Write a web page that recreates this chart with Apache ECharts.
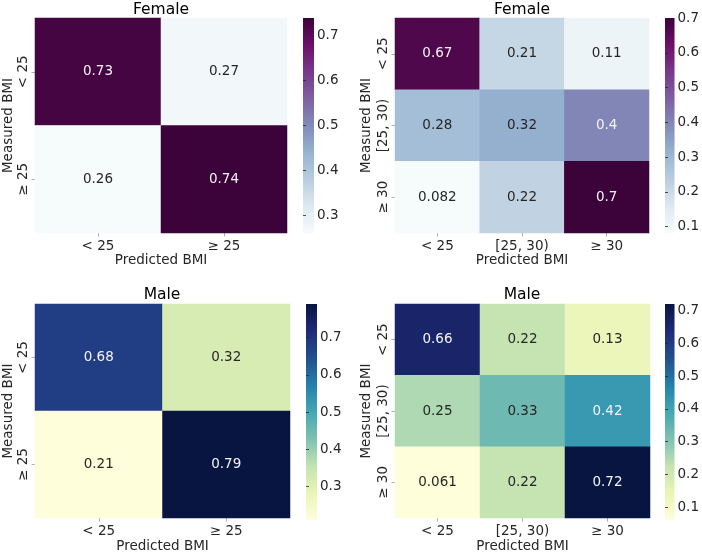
<!DOCTYPE html>
<html>
<head>
<meta charset="utf-8">
<script src="https://cdn.jsdelivr.net/npm/echarts@6/dist/echarts.min.js"></script>
<style>
html,body{margin:0;padding:0;background:#fff;}
#chart{width:702px;height:554px;}
</style>
</head>
<body>
<div id="chart"></div>
<script>
// ---- data ----
const titles = ['Female', 'Female', 'Male', 'Male'];
const binaryCategories = ['< 25', '≥ 25'];
const ternaryCategories = ['< 25', '[25, 30)', '≥ 30'];
// rows = measured BMI (top to bottom), columns = predicted BMI
const femaleBinary = [[0.73, 0.27], [0.26, 0.74]];
const femaleTernary = [[0.67, 0.21, 0.11], [0.28, 0.32, 0.4], [0.082, 0.22, 0.7]];
const maleBinary = [[0.68, 0.32], [0.21, 0.79]];
const maleTernary = [[0.66, 0.22, 0.13], [0.25, 0.33, 0.42], [0.061, 0.22, 0.72]];
const femaleBinaryTicks = [0.3, 0.4, 0.5, 0.6, 0.7];
const femaleTernaryTicks = [0.1, 0.2, 0.3, 0.4, 0.5, 0.6, 0.7];
const maleBinaryTicks = [0.3, 0.4, 0.5, 0.6, 0.7];
const maleTernaryTicks = [0.1, 0.2, 0.3, 0.4, 0.5, 0.6, 0.7];
const xAxisName = 'Predicted BMI';
const yAxisName = 'Measured BMI';

// ---- colormaps ----
const BUPU = ['#f7fcfd','#e0ecf4','#bfd3e6','#9ebcda','#8c96c6','#8c6bb1','#88419d','#810f7c','#4d004b'];
const YLGNBU = ['#ffffd9','#edf8b1','#c7e9b4','#7fcdbb','#41b6c4','#1d91c0','#225ea8','#253494','#081d58'];

function hexToRgb(h){return [parseInt(h.slice(1,3),16),parseInt(h.slice(3,5),16),parseInt(h.slice(5,7),16)];}
function rgbToHex(c){return '#'+c.map(v=>Math.round(Math.max(0,Math.min(255,v))).toString(16).padStart(2,'0')).join('');}
// slight tone adjustment (darker, a little muted) to match the reference rendering
function tone(cmap, g, s){
  return cmap.map(h=>{
    const c = hexToRgb(h).map(v=>255*Math.pow(v/255, g));
    const gray = 0.3*c[0]+0.59*c[1]+0.11*c[2];
    return rgbToHex(c.map(v=>v+(gray-v)*s));
  });
}
function sample(cmap, t){
  t = Math.max(0, Math.min(1, t));
  const p = t*(cmap.length-1), i = Math.min(Math.floor(p), cmap.length-2), f = p - i;
  const a = hexToRgb(cmap[i]), b = hexToRgb(cmap[i+1]);
  return a.map((v,k)=>v+(b[k]-v)*f);
}
function lum(rgb){
  const c = rgb.map(v=>{v/=255; return v<=0.03928? v/12.92 : Math.pow((v+0.055)/1.055,2.4);});
  return 0.2126*c[0]+0.7152*c[1]+0.0722*c[2];
}

const FONT = 'DejaVu Sans';
const FS = 13.5;
const TXT = '#262626';
const bupu = tone(BUPU, 1.15, 0.12), ylgnbu = tone(YLGNBU, 1.15, 0.18);

const panels = [
  {data: femaleBinary, cats: binaryCategories, ticks: femaleBinaryTicks, cmap: bupu, base: BUPU,
   grid:{left:35, top:18, width:252, height:215}, cb:{left:303, top:18, width:11, height:215}, title:[161,10], ng:20},
  {data: femaleTernary, cats: ternaryCategories, ticks: femaleTernaryTicks, cmap: bupu, base: BUPU,
   grid:{left:395, top:18, width:254, height:215}, cb:{left:665, top:18, width:11, height:215}, title:[522,10], ng:20},
  {data: maleBinary, cats: binaryCategories, ticks: maleBinaryTicks, cmap: ylgnbu, base: YLGNBU,
   grid:{left:35, top:304, width:255, height:216}, cb:{left:306, top:304, width:11, height:216}, title:[162,295], ng:18},
  {data: maleTernary, cats: ternaryCategories, ticks: maleTernaryTicks, cmap: ylgnbu, base: YLGNBU,
   grid:{left:395, top:304, width:255, height:216}, cb:{left:665, top:304, width:11, height:216}, title:[522,295], ng:18}
];

const grid = [], xAxis = [], yAxis = [], series = [], visualMap = [], graphic = [];
panels.forEach((p, i) => {
  const flat = p.data.flat();
  const mn = Math.min(...flat), mx = Math.max(...flat);
  const gi = grid.length;
  grid.push(Object.assign({containLabel:false}, p.grid));
  xAxis.push({type:'category', gridIndex:gi, data:p.cats, position:'bottom',
    axisLine:{show:false}, axisTick:{show:true, alignWithLabel:true, length:3.5, lineStyle:{color:'#999', width:0.8}},
    axisLabel:{color:TXT, fontFamily:FONT, fontSize:FS, margin:6},
    splitLine:{show:false},
    name:xAxisName, nameLocation:'middle', nameGap:p.ng,
    nameTextStyle:{color:TXT, fontFamily:FONT, fontSize:FS}});
  yAxis.push({type:'category', gridIndex:gi, data:p.cats, inverse:true,
    axisLine:{show:false}, axisTick:{show:true, alignWithLabel:true, length:3.5, lineStyle:{color:'#999', width:0.8}},
    axisLabel:{color:TXT, fontFamily:FONT, fontSize:FS, rotate:90, margin:5},
    splitLine:{show:false},
    name:yAxisName, nameLocation:'middle', nameRotate:90, nameGap:i%2===0?20:22,
    nameTextStyle:{color:TXT, fontFamily:FONT, fontSize:FS}});
  const items = [];
  p.data.forEach((row, r) => row.forEach((v, c) => {
    const col = sample(p.base, (v-mn)/(mx-mn));
    items.push({value:[c, r, v], label:{color: lum(col) > 0.408 ? TXT : '#f4f4f4'}});
  }));
  const si = series.length;
  series.push({type:'heatmap', xAxisIndex:gi, yAxisIndex:gi, data:items,
    label:{show:true, fontFamily:FONT, fontSize:FS, formatter: d => String(d.value[2])},
    itemStyle:{borderWidth:0}, emphasis:{disabled:true}});
  visualMap.push({type:'continuous', show:false, seriesIndex:si, dimension:2, min:mn, max:mx,
    inRange:{color:p.cmap}});
  // colorbar grid
  const stops = p.cmap.map((c, k) => ({offset:k/(p.cmap.length-1), color:c}));
  const ci = grid.length;
  grid.push(Object.assign({show:true, borderWidth:0,
    backgroundColor: new echarts.graphic.LinearGradient(0, 1, 0, 0, stops)}, p.cb));
  xAxis.push({type:'value', gridIndex:ci, show:false, min:0, max:1});
  yAxis.push({type:'value', gridIndex:ci, position:'right', min:mn, max:mx,
    axisLine:{show:false},
    axisTick:{show:true, length:3, customValues:p.ticks, lineStyle:{color:TXT, width:0.8}},
    axisLabel:{color:TXT, fontFamily:FONT, fontSize:FS, margin:3, customValues:p.ticks,
      formatter: v => String(Math.round(v*10)/10)},
    splitLine:{show:false}});
  graphic.push({type:'text', x:p.title[0], y:p.title[1],
    style:{text:titles[i], fill:'#000', font:'15.5px "DejaVu Sans"', textAlign:'center', textVerticalAlign:'middle'}});
});

const chart = echarts.init(document.getElementById('chart'), null, {renderer:'canvas'});
chart.setOption({animation:false, backgroundColor:'#fff', grid, xAxis, yAxis, series, visualMap, graphic});
</script>
</body>
</html>
